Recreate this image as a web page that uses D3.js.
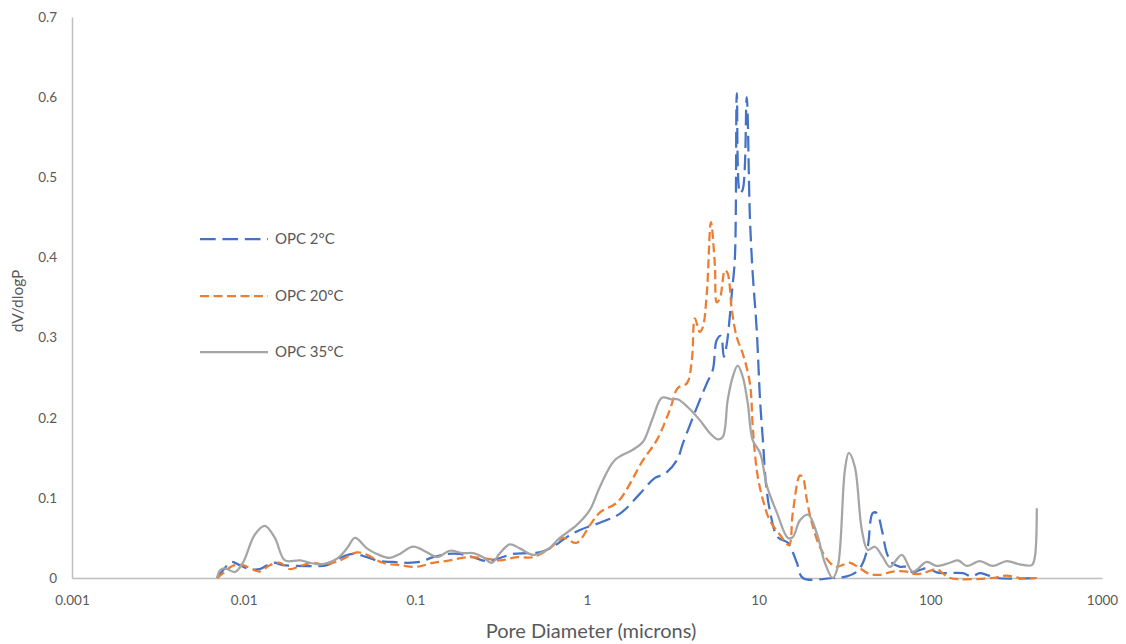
<!DOCTYPE html>
<html>
<head>
<meta charset="utf-8">
<script src="https://cdn.jsdelivr.net/npm/d3@7"></script>
<style>
  body { margin: 0; background: #fff; }
  svg { display: block; }
  text { font-family: Lato, "Noto Sans", sans-serif; fill: #595959; }
</style>
</head>
<body>
<svg id="chart"></svg>
<script>
// Series names and colours
const seriesNames = ["OPC 2\u00B0C", "OPC 20\u00B0C", "OPC 35\u00B0C"];
const seriesColors = ["#4472C4", "#ED7D31", "#A5A5A5"];

// Pore diameter (microns) and dV/dlogP
const diam2 = [0.0070,0.0076,0.0085,0.0095,0.0109,0.0124,0.0148,0.0169,0.0204,0.0253,0.0306,0.0364,0.0433,0.0522,0.062,0.0741,0.0894,0.106,0.127,0.153,0.182,0.217,0.261,0.311,0.370,0.447,0.531,0.632,0.762,0.91,1.19,1.55,2.03,2.49,2.84,3.34,3.62,4.08,4.54,4.99,5.41,5.70,6.02,6.27,6.53,6.98,7.27,7.46,7.79,8.08,8.52,8.89,9.23,9.74,10.2,10.6,11.0,11.6,12.9,14.8,15.6,16.7,18.1,27.0,32.6,37.3,40.5,43.2,46.2,48.8,52.2,55.8,59.7,66.6,73.0,79.0,86.7,96.8,109,118,155,174,194,213,244,417];
const dv2 = [0,0.01,0.02,0.016,0.011,0.011,0.019,0.016,0.015,0.015,0.016,0.025,0.030,0.026,0.021,0.020,0.019,0.020,0.026,0.030,0.030,0.026,0.021,0.025,0.030,0.031,0.032,0.039,0.051,0.06,0.069,0.08,0.105,0.125,0.13,0.147,0.168,0.197,0.222,0.243,0.26,0.297,0.302,0.276,0.293,0.356,0.40,0.605,0.48,0.485,0.60,0.45,0.38,0.31,0.22,0.17,0.12,0.085,0.051,0.044,0.035,0.019,0,0,0.002,0.008,0.019,0.039,0.081,0.081,0.06,0.031,0.019,0.014,0.014,0.007,0.01,0.012,0.007,0.006,0.006,0.002,0.006,0.004,0,0];

const diam20 = [0.0070,0.0076,0.0086,0.0099,0.0112,0.0124,0.0142,0.0163,0.0186,0.0213,0.0253,0.029,0.0364,0.0457,0.0522,0.0647,0.0812,0.102,0.127,0.159,0.200,0.248,0.311,0.390,0.484,0.608,0.724,0.87,1.04,1.19,1.51,2.12,2.55,3.04,3.38,3.82,4.08,4.25,4.54,4.73,4.99,5.27,5.56,5.70,5.95,6.36,6.6,6.98,7.46,8.08,8.89,9.23,9.50,9.89,10.6,11.6,13.3,15.0,15.8,17.4,18.1,19.1,20.4,22.7,26.0,28.5,34.0,38.9,44.4,50.8,60.5,73.0,81.1,90.7,109,118,130,231,279,332,417];
const dv20 = [0,0.006,0.015,0.016,0.011,0.008,0.016,0.019,0.011,0.015,0.019,0.017,0.022,0.032,0.029,0.019,0.016,0.014,0.019,0.022,0.026,0.025,0.022,0.026,0.026,0.037,0.05,0.044,0.066,0.082,0.095,0.147,0.172,0.21,0.237,0.243,0.272,0.324,0.307,0.313,0.356,0.444,0.39,0.344,0.349,0.384,0.38,0.334,0.30,0.28,0.243,0.19,0.156,0.126,0.097,0.072,0.054,0.041,0.081,0.128,0.125,0.097,0.069,0.039,0.019,0.014,0.019,0.012,0.005,0.004,0.008,0.008,0.005,0.006,0.011,0.006,0,0,0.003,0,0];

const diam35 = [0.0070,0.0073,0.0078,0.0089,0.0099,0.0116,0.0133,0.0152,0.0174,0.0213,0.0278,0.0349,0.040,0.0445,0.0522,0.0597,0.071,0.0812,0.097,0.117,0.134,0.159,0.189,0.217,0.248,0.279,0.311,0.355,0.406,0.484,0.583,0.694,0.87,1.04,1.19,1.45,1.85,2.12,2.42,2.73,3.12,3.38,3.87,4.54,5.19,5.78,6.18,6.6,7.06,7.55,8.08,8.64,9.23,10.2,11.2,12.8,14.8,15.8,17.4,19.4,21.8,24.3,27.0,28.9,31.8,33.5,36.3,39.9,43.2,47.5,52.9,58.1,68.2,79.0,95.3,109,130,145,163,194,231,279,332,390,406,417];
const dv35 = [0,0.010,0.012,0.0075,0.019,0.054,0.065,0.05,0.022,0.022,0.017,0.024,0.037,0.05,0.037,0.030,0.025,0.030,0.039,0.032,0.026,0.034,0.031,0.031,0.026,0.019,0.031,0.042,0.037,0.029,0.035,0.05,0.066,0.085,0.114,0.147,0.16,0.17,0.20,0.225,0.223,0.223,0.213,0.197,0.181,0.173,0.176,0.222,0.251,0.265,0.251,0.218,0.172,0.156,0.114,0.081,0.05,0.051,0.072,0.079,0.056,0.019,0,0.014,0.135,0.156,0.139,0.06,0.035,0.039,0.026,0.014,0.029,0.008,0.02,0.015,0.019,0.022,0.015,0.021,0.015,0.021,0.017,0.016,0.026,0.087];

// Axis ticks
const xTicks = [0.001, 0.01, 0.1, 1, 10, 100, 1000];
const yTicks = [0, 0.1, 0.2, 0.3, 0.4, 0.5, 0.6, 0.7];

const width = 1126, height = 644;
const margin = { top: 17, right: 24, bottom: 66, left: 72 };

const svg = d3.select("#chart").attr("width", width).attr("height", height);

const x = d3.scaleLog().domain([0.001, 1000]).range([margin.left, width - margin.right]);
const y = d3.scaleLinear().domain([0, 0.7]).range([height - margin.bottom, margin.top]);

// Axes
const xAxis = svg.append("g")
    .attr("transform", `translate(0,${y(0)})`)
    .call(d3.axisBottom(x).tickValues(xTicks).tickFormat(d => String(d)).tickSize(0).tickPadding(17));
xAxis.select(".domain").attr("stroke", "#BFBFBF").attr("stroke-width", 1.5);
xAxis.selectAll("text").attr("font-size", 13.5).style("fill", "#595959");

const yAxis = svg.append("g")
    .attr("transform", `translate(${x(0.001)},0)`)
    .call(d3.axisLeft(y).tickValues(yTicks).tickFormat(d => d === 0 ? "0" : d.toFixed(1)).tickSize(0).tickPadding(15));
yAxis.select(".domain").attr("stroke", "#BFBFBF").attr("stroke-width", 1.5);
yAxis.selectAll("text").attr("font-size", 13.5).style("fill", "#595959");

// Axis titles
svg.append("text")
    .attr("x", 591)
    .attr("y", 638)
    .attr("text-anchor", "middle")
    .attr("font-size", 20)
    .text("Pore Diameter (microns)");

svg.append("text")
    .attr("transform", `translate(23,301) rotate(-90)`)
    .attr("text-anchor", "middle")
    .attr("font-size", 15.5)
    .text("dV/dlogP");

// Lines
const dashes = ["15.7,6.7", "9,4.5", null];
const series = [
    { name: seriesNames[0], pts: diam2.map((d, i) => [d, dv2[i]]) },
    { name: seriesNames[1], pts: diam20.map((d, i) => [d, dv20[i]]) },
    { name: seriesNames[2], pts: diam35.map((d, i) => [d, dv35[i]]) }
];

const line = d3.line()
    .x(d => x(d[0]))
    .y(d => y(d[1]))
    .curve(d3.curveCatmullRom.alpha(0.5));

svg.append("g")
    .selectAll("path")
    .data(series)
    .enter().append("path")
    .attr("fill", "none")
    .attr("stroke", (d, i) => seriesColors[i])
    .attr("stroke-width", 2.25)
    .attr("stroke-dasharray", (d, i) => dashes[i])
    .attr("d", d => line(d.pts));

// Legend
const legendY = [239, 296, 352];
const legend = svg.append("g")
    .selectAll("g")
    .data(series)
    .enter().append("g")
    .attr("transform", (d, i) => `translate(200,${legendY[i]})`);

legend.append("line")
    .attr("x1", 0).attr("x2", 68)
    .attr("stroke", (d, i) => seriesColors[i])
    .attr("stroke-width", 2.25)
    .attr("stroke-dasharray", (d, i) => dashes[i]);

legend.append("text")
    .attr("x", 75)
    .attr("dy", "0.35em")
    .attr("font-size", 15)
    .text(d => d.name);
</script>
</body>
</html>
